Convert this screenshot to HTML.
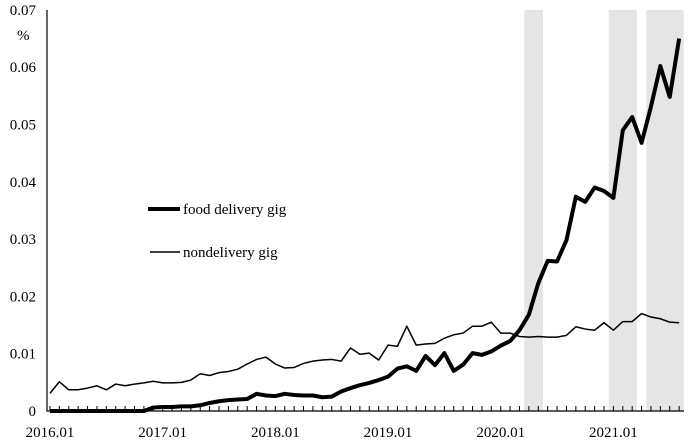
<!DOCTYPE html>
<html><head><meta charset="utf-8"><style>
html,body{margin:0;padding:0;background:#fff;}
svg text{font-family:"Liberation Serif",serif;font-size:15px;fill:#000;}
</style></head><body>
<svg width="688" height="440" viewBox="0 0 688 440" id="chart">
<g id="bands"></g><g id="axes"></g><g id="series"></g>
<g>
<line x1="148" y1="209" x2="180" y2="209" stroke="#000" stroke-width="4"/>
<text x="183" y="214">food delivery gig</text>
<line x1="150" y1="252" x2="180" y2="252" stroke="#000" stroke-width="1.5"/>
<text x="183" y="257">nondelivery gig</text>
</g>
<text x="17" y="40">%</text>
</svg>
<script>
const food=[0,0,0,0,0,0,0,0,0,0,0,.0006,.0007,.0007,.0008,.0008,.001,.0014,.0017,.0019,.002,.0021,.003,.0027,.0026,.003,.0028,.0027,.0027,.0024,.0025,.0034,.004,.0045,.0049,.0054,.006,.0074,.0078,.007,.0096,.008,.0101,.007,.0081,.0101,.0098,.0104,.0114,.0122,.0141,.0168,.0223,.0262,.0261,.0298,.0374,.0365,.039,.0384,.0372,.049,.0513,.0468,.0531,.0602,.0548,.065];
const nondelivery=[.0031,.0051,.0037,.0037,.004,.0044,.0037,.0047,.0044,.0047,.0049,.0052,.0049,.0049,.005,.0054,.0065,.0062,.0067,.0069,.0073,.0082,.009,.0094,.0082,.0075,.0076,.0083,.0087,.0089,.009,.0087,.011,.0099,.0101,.0089,.0115,.0113,.0148,.0115,.0117,.0118,.0127,.0133,.0136,.0148,.0148,.0155,.0136,.0136,.013,.0129,.013,.0129,.0129,.0132,.0147,.0143,.0141,.0154,.0141,.0156,.0156,.017,.0164,.0161,.0155,.0154];
const yTicks=[0,0.01,0.02,0.03,0.04,0.05,0.06,0.07];
const yTickLabels=["0","0.01","0.02","0.03","0.04","0.05","0.06","0.07"];
const xTickIdx=[0,12,24,36,48,60];
const xTickLabels=["2016.01","2017.01","2018.01","2019.01","2020.01","2021.01"];
const bands=[[50.5,52.5],[59.5,62.5],[63.5,67.5]];
const NS="http://www.w3.org/2000/svg";
const X=i=>50+i*9.39, Y=v=>411-v*5730;
function mk(t,a,p){const e=document.createElementNS(NS,t);for(const k in a)e.setAttribute(k,a[k]);p.appendChild(e);return e;}
const gb=document.getElementById('bands'),ga=document.getElementById('axes'),gs=document.getElementById('series');
bands.forEach(b=>{const r=mk('rect',{x:X(b[0]),y:10,width:X(b[1])-X(b[0]),height:401,fill:'#e5e5e5'},gb);

});
const ax=mk('path',{d:'M47,10 L47,411 L684,411',fill:'none',stroke:'#000','stroke-width':1.2},ga);


for(let i=0;i<food.length;i++){mk('line',{x1:X(i),x2:X(i),y1:411,y2:406,stroke:'#000','stroke-width':1},ga);}
yTicks.forEach((v,k)=>{const t=mk('text',{x:36,y:Y(v)+5,'text-anchor':'end'},ga);t.textContent=yTickLabels[k];

});
xTickIdx.forEach((i,k)=>{const t=mk('text',{x:X(i),y:437,'text-anchor':'middle'},ga);t.textContent=xTickLabels[k];

});
const p1=mk('polyline',{points:nondelivery.map((v,i)=>X(i)+','+Y(v)).join(' '),fill:'none',stroke:'#000','stroke-width':1.5,'stroke-linejoin':'round'},gs);


const p2=mk('polyline',{points:food.map((v,i)=>X(i)+','+Y(v)).join(' '),fill:'none',stroke:'#000','stroke-width':4,'stroke-linejoin':'round'},gs);


</script>
</body></html>
